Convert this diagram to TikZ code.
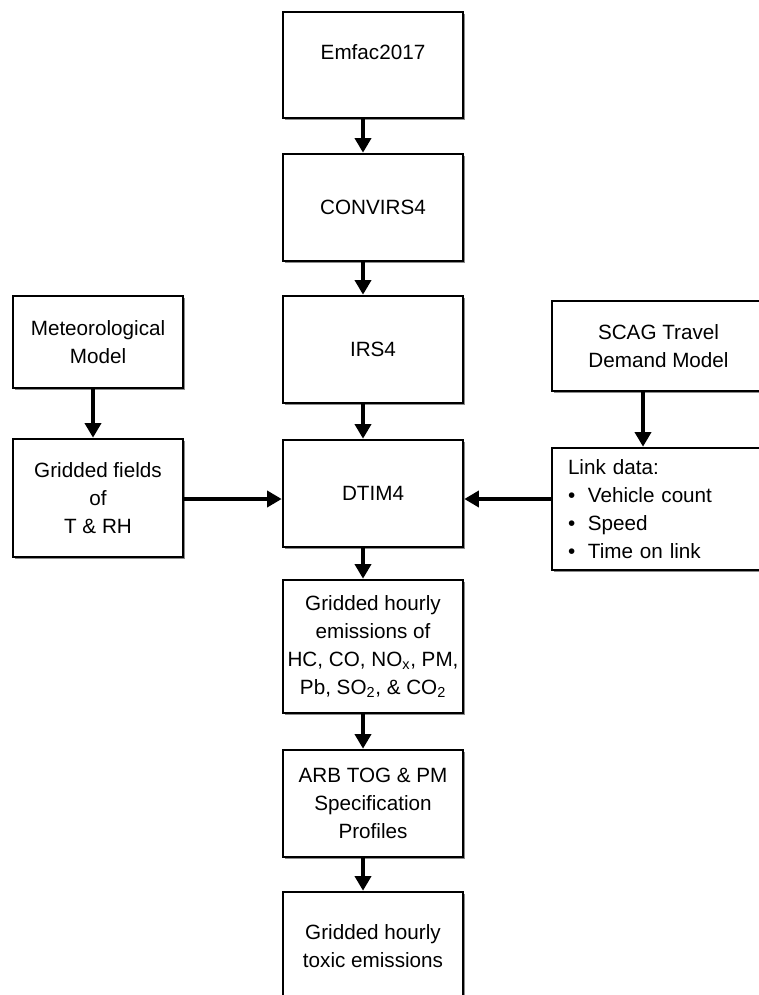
\documentclass[tikz,border=0pt]{standalone}
\usepackage{fontspec}
\setmainfont{Liberation Sans}
\usetikzlibrary{arrows.meta,shadows}
\begin{document}
\begin{tikzpicture}[x=0.75pt,y=-0.75pt,
  box/.style={draw, line width=1.9pt, fill=white, inner sep=0pt, align=center,
    font=\fontsize{15.5pt}{21pt}\selectfont,
    drop shadow={shadow xshift=1.6pt,shadow yshift=-1.6pt,fill=black!45,opacity=1}},
  cbox/.style={box, minimum width=135pt, minimum height=80.25pt},
  arr/.style={line width=3pt,-{Triangle[width=12pt,length=11pt]}}]
\useasboundingbox (0,0) rectangle (759,995);
\clip (0,0) rectangle (759,995);

% central column
\node[cbox, minimum height=79.5pt] (emfac) at (373,65) {\raisebox{9.75pt}[\height][\depth]{Emfac2017}};
\node[cbox] (convirs) at (373,207.5) {CONVIRS4};
\node[cbox] (irs) at (373,349.5) {IRS4};
\node[cbox] (dtim) at (373,493.5) {DTIM4};
\node[cbox, minimum height=99.75pt] (emis) at (373,646.5)
  {Gridded hourly\\emissions of\\HC, CO, NO\textsubscript{x}, PM,\\Pb, SO\textsubscript{2}, \& CO\textsubscript{2}};
\node[cbox] (arb) at (373,803.5) {ARB TOG \& PM\\Specification\\Profiles};
\node[cbox, minimum height=81pt] (toxic) at (373,946) {Gridded hourly\\toxic emissions};

% left column
\node[box, minimum width=127.5pt, minimum height=69pt] (met) at (98,342) {Meteorological\\Model};
\node[box, minimum width=127.5pt, minimum height=88.5pt] (grid) at (98,498) {Gridded fields\\of\\T \& RH};

% right column
\node[box, minimum width=159.75pt, minimum height=67.5pt] (scag) at (658.5,346) {SCAG Travel\\Demand Model};
\node[box, minimum width=159.75pt, minimum height=91.5pt, text width=135.75pt, inner xsep=12pt, align=left] (link) at (658.5,509)
  {Link data:\\\textbullet\hspace{9.5pt}Vehicle count\\\textbullet\hspace{9.5pt}Speed\\\textbullet\hspace{9.5pt}Time on link};

% connectors
\coordinate (cx) at (363,0);
\coordinate (mx) at (93,0);
\coordinate (sx) at (643,0);
\coordinate (hy) at (0,499);
\draw[arr] (emfac.south -| cx) -- (convirs.north -| cx);
\draw[arr] (convirs.south -| cx) -- (irs.north -| cx);
\draw[arr] (irs.south -| cx) -- (dtim.north -| cx);
\draw[arr] (dtim.south -| cx) -- (emis.north -| cx);
\draw[arr] (emis.south -| cx) -- (arb.north -| cx);
\draw[arr] (arb.south -| cx) -- (toxic.north -| cx);
\draw[arr] (met.south -| mx) -- (grid.north -| mx);
\draw[arr] (scag.south -| sx) -- (link.north -| sx);
\draw[arr] (grid.east |- hy) -- (dtim.west |- hy);
\draw[arr] (link.west |- hy) -- (dtim.east |- hy);
\end{tikzpicture}
\end{document}
